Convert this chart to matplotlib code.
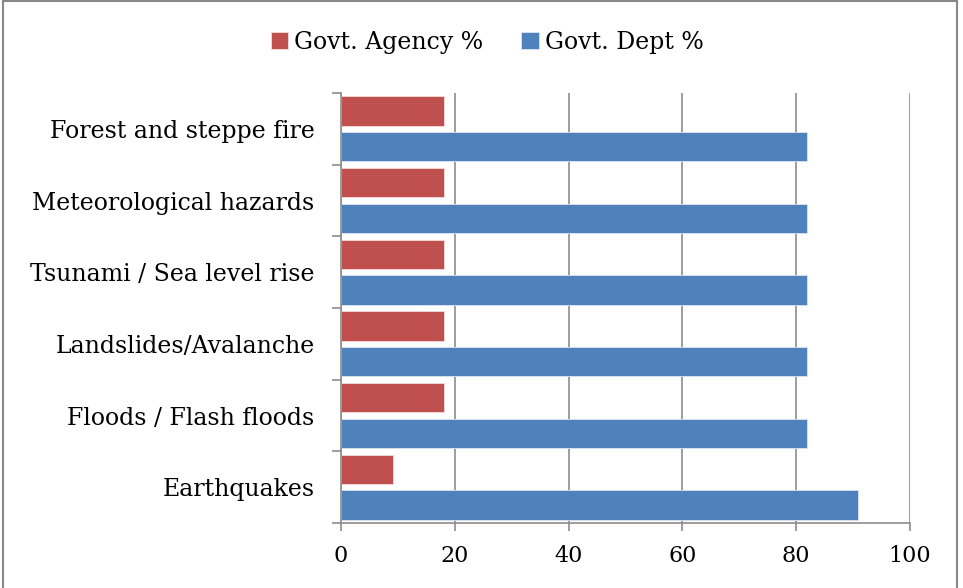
import numpy as np
import matplotlib
matplotlib.use("Agg")
import matplotlib.pyplot as plt
from matplotlib.patches import Rectangle

# ---------------------------------------------------------------------------
# Data (bottom -> top)
# ---------------------------------------------------------------------------
categories = ["Earthquakes", "Floods / Flash floods", "Landslides/Avalanche",
              "Tsunami / Sea level rise", "Meteorological hazards",
              "Forest and steppe fire"]
agency_pct = [9.09, 18.18, 18.18, 18.18, 18.18, 18.18]
dept_pct   = [90.91, 81.82, 81.82, 81.82, 81.82, 81.82]
x_ticks    = [0, 20, 40, 60, 80, 100]

RED  = "#C0504D"
BLUE = "#4F81BD"
GRID = "#8C8C8C"

plt.rcParams["font.family"] = ["DejaVu Serif"]

fig = plt.figure(figsize=(9.63, 5.88), dpi=100)
ax = fig.add_axes([341 / 963, 1 - 523 / 588, 569 / 963, 430 / 588])

y = np.arange(len(categories))
h, off = 0.41, 0.25
ax.barh(y + off, agency_pct, height=h, color=RED, edgecolor="#f2dcdb",
        linewidth=0.6, label="Govt. Agency %", zorder=3)
ax.barh(y - off, dept_pct, height=h, color=BLUE, edgecolor="#dbe5f1",
        linewidth=0.6, label="Govt. Dept %", zorder=3)

ax.set_xlim(0, 100)
ax.set_ylim(-0.5, len(categories) - 0.5)
ax.set_xticks(x_ticks)
ax.set_xticklabels([str(t) for t in x_ticks], fontsize=16)
ax.set_yticks(y)
ax.set_yticklabels(categories, fontsize=17)
ax.set_yticks(np.arange(len(categories) + 1) - 0.5, minor=True)

ax.tick_params(axis="y", which="major", length=0, pad=19)
ax.tick_params(axis="y", which="minor", length=6.5, width=1.2, color=GRID)
ax.tick_params(axis="x", length=6, width=1.2, color=GRID, pad=10)

ax.grid(axis="x", color=GRID, linewidth=1.2, zorder=0)
for s in ["top", "right"]:
    ax.spines[s].set_visible(False)
for s in ["left", "bottom"]:
    ax.spines[s].set_color(GRID)
    ax.spines[s].set_linewidth(1.2)
    ax.spines[s].set_zorder(4)

handles, labels = ax.get_legend_handles_labels()
fig.legend(handles, labels, loc="center", bbox_to_anchor=(487 / 963, 1 - 42 / 588),
           ncol=2, frameon=False, fontsize=17, handlelength=0.75, handleheight=0.75,
           handletextpad=0.25, columnspacing=1.6)

fig.patches.append(Rectangle((2.5 / 963, -0.01), (957 - 2.5) / 963, 1.008,
                             transform=fig.transFigure, fill=False,
                             edgecolor="#888888", linewidth=1.5))

fig.savefig("out.png", dpi=100)
